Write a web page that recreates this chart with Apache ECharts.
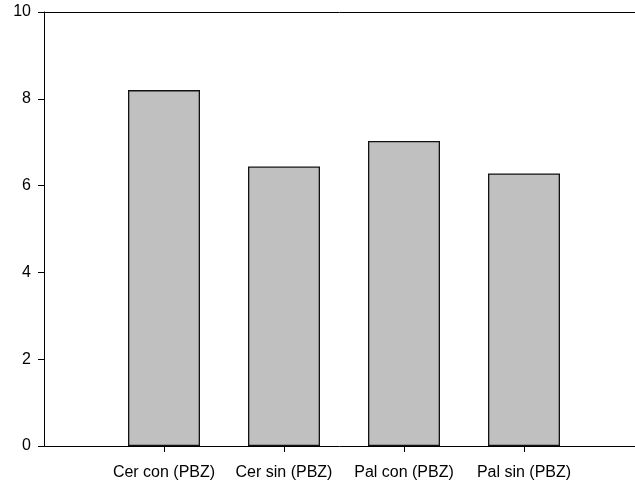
<!DOCTYPE html>
<html>
<head>
<meta charset="utf-8">
<script src="https://cdn.jsdelivr.net/npm/echarts@6/dist/echarts.min.js"></script>
<style>html,body{margin:0;padding:0;background:#fff}#c{width:635px;height:484px}</style>
</head>
<body>
<div id="c"></div>
<script>
var categories = ['Cer con (PBZ)', 'Cer sin (PBZ)', 'Pal con (PBZ)', 'Pal sin (PBZ)'];
var values = [8.20, 6.44, 7.03, 6.28];
var yTicks = [0, 2, 4, 6, 8, 10];

var chart = echarts.init(document.getElementById('c'), null, {renderer: 'canvas'});
var pos = categories.map(function (c, i) { return i; });
var font = 'Liberation Sans, Arial, sans-serif';
chart.setOption({
  animation: false,
  grid: {left: 44, right: -1, top: 12, bottom: 38, containLabel: false},
  xAxis: [{
    type: 'value', min: -1, max: 3.925, position: 'bottom',
    splitLine: {show: false},
    axisLine: {show: true, onZero: false, lineStyle: {color: '#000', width: 1}},
    axisTick: {show: true, inside: false, length: 6, customValues: pos, lineStyle: {color: '#000'}},
    axisLabel: {show: true, customValues: pos, margin: 19, color: '#000', fontSize: 16, fontFamily: font,
      formatter: function (v) { return categories[Math.round(v)] || ''; }}
  }, {
    type: 'value', min: -1, max: 3.925, position: 'top',
    splitLine: {show: false},
    axisLine: {show: true, onZero: false, lineStyle: {color: '#000', width: 1}},
    axisTick: {show: false}, axisLabel: {show: false}
  }],
  yAxis: {
    type: 'value', min: yTicks[0], max: yTicks[yTicks.length - 1], interval: 2,
    position: 'left',
    splitLine: {show: false},
    axisLine: {show: true, onZero: false, lineStyle: {color: '#000', width: 1}},
    axisTick: {show: true, length: 6, lineStyle: {color: '#000'}},
    axisLabel: {margin: 13, color: '#000', fontSize: 16, fontFamily: font}
  },
  series: [{
    type: 'bar',
    xAxisIndex: 0,
    data: values.map(function (v, i) { return [pos[i], v]; }),
    barWidth: 72,
    itemStyle: {color: '#c0c0c0', borderColor: '#111', borderWidth: 1.3}
  }]
});
</script>
</body>
</html>
